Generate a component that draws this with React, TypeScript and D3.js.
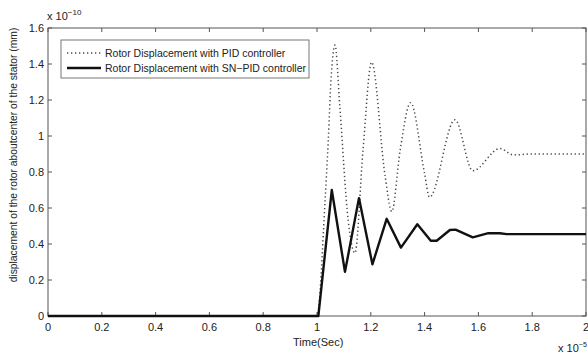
import React from "react";
import * as d3 from "d3";

const xTicks = [0, 0.2, 0.4, 0.6, 0.8, 1, 1.2, 1.4, 1.6, 1.8, 2];
const yTicks = [0, 0.2, 0.4, 0.6, 0.8, 1, 1.2, 1.4, 1.6];

const pidTime = [0, 1.0, 1.03, 1.042, 1.052, 1.067, 1.085, 1.116, 1.141, 1.171, 1.203, 1.253, 1.278, 1.309, 1.348, 1.4, 1.418, 1.513, 1.579, 1.68, 1.73, 1.8, 2.0];
const pidValue = [0, 0, 0.64, 0.98, 1.31, 1.505, 1.16, 0.53, 0.35, 0.92, 1.41, 0.78, 0.58, 0.92, 1.185, 0.79, 0.66, 1.09, 0.807, 0.93, 0.895, 0.9, 0.9];

const snTime = [0, 1.005, 1.055, 1.104, 1.156, 1.206, 1.259, 1.312, 1.373, 1.423, 1.445, 1.494, 1.515, 1.579, 1.637, 1.68, 1.705, 2.0];
const snValue = [0, 0, 0.70, 0.245, 0.655, 0.287, 0.54, 0.38, 0.51, 0.418, 0.418, 0.478, 0.48, 0.437, 0.46, 0.46, 0.455, 0.455];

const legendLabels = ["Rotor Displacement with PID controller", "Rotor Displacement with SN\u2212PID controller"];

const W = 588, H = 354;
const left = 48, right = 586, top = 28, bottom = 316;

export default function App() {
  const x = d3.scaleLinear().domain([0, 2]).range([left, right]);
  const y = d3.scaleLinear().domain([0, 1.6]).range([bottom, top]);
  const pid = pidTime.map((t, i) => [t, pidValue[i]] as [number, number]);
  const sn = snTime.map((t, i) => [t, snValue[i]] as [number, number]);
  const smooth = d3.line<[number, number]>().x(d => x(d[0])).y(d => y(d[1])).curve(d3.curveMonotoneX);
  const lin = d3.line<[number, number]>().x(d => x(d[0])).y(d => y(d[1]));
  const font = "'Liberation Sans', Arial, sans-serif";
  const axisColor = "#555";
  const tk = 4;
  return (
    <svg width={W} height={H} style={{ position: "absolute", left: 0, top: 0, background: "#fff" }} fontFamily={font}>
      <rect x={0} y={0} width={W} height={H} fill="#fff" />
      <rect x={left} y={top} width={right - left} height={bottom - top} fill="none" stroke={axisColor} strokeWidth={1} />
      {xTicks.map(t => (
        <g key={"x" + t}>
          <line x1={x(t)} x2={x(t)} y1={bottom} y2={bottom - tk} stroke={axisColor} />
          <line x1={x(t)} x2={x(t)} y1={top} y2={top + tk} stroke={axisColor} />
          <text x={x(t)} y={331} fontSize={11} textAnchor="middle" fill="#222">{d3.format("~g")(t)}</text>
        </g>
      ))}
      {yTicks.map(t => (
        <g key={"y" + t}>
          <line x1={left} x2={left + tk} y1={y(t)} y2={y(t)} stroke={axisColor} />
          <line x1={right} x2={right - tk} y1={y(t)} y2={y(t)} stroke={axisColor} />
          <text x={44} y={y(t) + 4} fontSize={11} textAnchor="end" fill="#222">{d3.format("~g")(t)}</text>
        </g>
      ))}
      <path d={smooth(pid) || ""} fill="none" stroke="#4a4a4a" strokeWidth={1.5} strokeDasharray="1.3,2.7" />
      <path d={lin(sn) || ""} fill="none" stroke="#111" strokeWidth={2.4} strokeLinejoin="round" />
      <text x={47} y={20} fontSize={11} fill="#222">x 10<tspan dy={-5} fontSize={8}>{"\u221210"}</tspan></text>
      <text x={558} y={352} fontSize={11} fill="#222">x 10<tspan dy={-5} fontSize={7}>{"\u22125"}</tspan></text>
      <text x={293} y={346} fontSize={11} fill="#222">Time(Sec)</text>
      <text transform={`translate(17,${155}) rotate(-90)`} fontSize={10.3} textAnchor="middle" fill="#222">displacement of the rotor aboutcenter of the stator (mm)</text>
      <rect x={61} y={40} width={248} height={38} fill="#fff" stroke="#777" strokeWidth={1} />
      <line x1={67} x2={101} y1={53} y2={53} stroke="#4a4a4a" strokeWidth={1.5} strokeDasharray="1.3,2.7" />
      <line x1={67} x2={101} y1={68} y2={68} stroke="#111" strokeWidth={2.4} />
      <text x={105} y={57} fontSize={10.5} fill="#222">{legendLabels[0]}</text>
      <text x={105} y={72} fontSize={10.5} fill="#222">{legendLabels[1]}</text>
    </svg>
  );
}
